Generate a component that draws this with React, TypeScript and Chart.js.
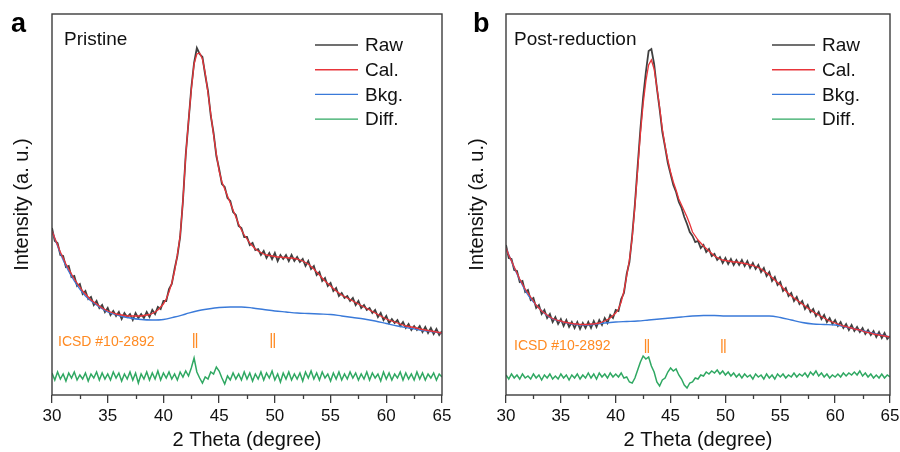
import React, { useEffect, useRef } from 'react';
import { Chart, registerables } from 'chart.js';

Chart.register(...registerables);

// ---------------- data ----------------
const twoTheta = [
  30, 30.25, 30.5, 30.75, 31, 31.25, 31.5, 31.75, 32, 32.25, 32.5, 32.75, 33, 33.25, 33.5, 33.75,
  34, 34.25, 34.5, 34.75, 35, 35.25, 35.5, 35.75, 36, 36.25, 36.5, 36.75, 37, 37.25, 37.5, 37.75,
  38, 38.25, 38.5, 38.75, 39, 39.25, 39.5, 39.75, 40, 40.25, 40.5, 40.75, 41, 41.25, 41.5, 41.75,
  42, 42.25, 42.5, 42.75, 43, 43.25, 43.5, 43.75, 44, 44.25, 44.5, 44.75, 45, 45.25, 45.5, 45.75,
  46, 46.25, 46.5, 46.75, 47, 47.25, 47.5, 47.75, 48, 48.25, 48.5, 48.75, 49, 49.25, 49.5, 49.75,
  50, 50.25, 50.5, 50.75, 51, 51.25, 51.5, 51.75, 52, 52.25, 52.5, 52.75, 53, 53.25, 53.5, 53.75,
  54, 54.25, 54.5, 54.75, 55, 55.25, 55.5, 55.75, 56, 56.25, 56.5, 56.75, 57, 57.25, 57.5, 57.75,
  58, 58.25, 58.5, 58.75, 59, 59.25, 59.5, 59.75, 60, 60.25, 60.5, 60.75, 61, 61.25, 61.5, 61.75,
  62, 62.25, 62.5, 62.75, 63, 63.25, 63.5, 63.75, 64, 64.25, 64.5, 64.75, 65,
];

const bkgTheta = [
  30, 31, 32, 33, 34, 35, 36, 37, 38, 39, 40, 41, 42, 43, 44, 45, 46, 47,
  48, 49, 50, 51, 52, 53, 54, 55, 56, 57, 58, 59, 60, 61, 62, 63, 64, 65,
];

// Panel a — Pristine
const rawA = [
  166, 153, 151, 139, 138, 127, 128, 117, 118, 108, 110, 100, 103, 95, 97, 89,
  93, 86, 89, 82, 86, 79, 83, 78, 82, 75, 81, 77, 80, 74, 81, 76,
  80, 76, 82, 77, 84, 80, 87, 85, 93, 93, 105, 110, 125, 138, 157, 193,
  239, 272, 306, 331, 346, 340, 337, 319, 303, 278, 261, 238, 225, 210, 207, 196,
  193, 182, 179, 168, 166, 157, 157, 149, 151, 144, 145, 139, 143, 136, 141, 135,
  141, 133, 139, 135, 139, 133, 139, 133, 137, 132, 135, 128, 133, 125, 128, 119,
  122, 113, 116, 108, 111, 103, 106, 98, 101, 96, 98, 93, 96, 89, 93, 86,
  89, 84, 86, 81, 84, 77, 81, 74, 78, 71, 75, 71, 74, 68, 72, 66,
  70, 64, 68, 64, 68, 62, 67, 61, 66, 60, 65, 59, 63,
];
const calA = [
  163, 156, 149, 142, 136, 130, 125, 120, 115, 111, 107, 103, 100, 97, 94, 92,
  90, 88, 86, 84.5, 83, 82, 81, 80, 79.5, 79, 78.5, 78, 78, 78, 78, 78,
  78, 78.5, 79, 79.5, 80.5, 82, 84, 87, 90, 95, 102, 111, 123, 139, 158, 193,
  238, 273, 304, 330, 340, 341, 335, 321, 301, 280, 259, 240, 223, 212, 205, 198,
  191, 184, 177, 170, 164, 159, 155, 151, 148, 145, 143, 141.5, 140, 139, 138.5, 138,
  137.5, 137, 137, 136.5, 136.5, 136, 136, 135.5, 135, 134, 133, 131.5, 130, 127.5, 125, 122,
  119, 116, 113, 110.5, 108, 105.5, 103, 101, 99, 97.5, 96, 94.5, 93, 91.5, 90, 88.5,
  87, 85.5, 84, 82.5, 81, 79.5, 78, 76.5, 75, 74, 73, 72, 71, 70, 69, 68,
  67.5, 67, 66.5, 66, 65, 64.5, 64, 63.5, 63, 62.5, 62, 61.5, 61,
];
const bkgA = [
  163, 134, 113, 98, 89, 82, 78.5, 76, 74.5, 74, 74.5, 77, 80, 83, 85, 86.5, 87, 87,
  86, 84.5, 83, 82, 81, 80.5, 80, 79.5, 78, 76.5, 75, 73, 70.5, 68, 66, 64, 62.5, 61,
];
const diffA = [
  21, 14, 22, 15, 20, 13, 21, 16, 22, 14, 19, 15, 21, 13, 20, 16,
  22, 14, 21, 15, 20, 14, 22, 16, 21, 13, 20, 15, 22, 14, 21, 11,
  20, 15, 22, 14, 21, 15, 23, 14, 21, 16, 22, 15, 20, 14, 22, 17,
  23, 18, 26, 36, 22, 16, 11, 17, 15, 22, 20, 27, 23, 16, 10, 18,
  14, 21, 15, 20, 14, 22, 15, 21, 13, 20, 15, 22, 14, 21, 16, 23,
  14, 20, 12, 21, 15, 22, 14, 20, 15, 21, 13, 22, 16, 23, 15, 21,
  14, 22, 16, 20, 13, 21, 15, 22, 14, 20, 15, 22, 16, 21, 14, 20,
  15, 22, 14, 21, 16, 20, 13, 22, 15, 21, 14, 20, 16, 22, 14, 21,
  15, 20, 14, 22, 15, 21, 14, 20, 16, 21, 14, 20, 17,
];

// Panel b — Post-reduction
const rawB = [
  149, 136, 135, 124, 123, 112, 113, 102, 104, 94, 96, 86, 89, 80, 84, 76,
  80, 72, 77, 70, 75, 68, 74, 67, 72, 66, 72, 65, 71, 66, 72, 66,
  73, 67, 74, 69, 76, 71, 79, 76, 84, 83, 95, 101, 120, 132, 158, 190,
  228, 265, 297, 322, 343, 345, 330, 306, 285, 262, 247, 231, 220, 209, 202, 192,
  186, 177, 170, 162, 158, 152, 153, 146, 149, 142, 145, 138, 140, 134, 137, 131,
  136, 130, 135, 129, 134, 129, 134, 128, 133, 126, 131, 125, 129, 122, 126, 118,
  122, 113, 117, 109, 112, 103, 106, 98, 101, 93, 97, 90, 93, 85, 89, 82,
  85, 78, 82, 75, 79, 72, 76, 70, 74, 68, 72, 66, 70, 64, 69, 63,
  67, 62, 66, 60, 64, 59, 63, 57, 62, 56, 61, 55, 58,
];
const calB = [
  146, 139, 133, 127, 121, 115, 110, 105, 101, 97, 93, 89, 86, 83, 81, 79,
  77, 75.5, 74.5, 73.5, 73, 72, 71.5, 71, 70.5, 70, 70, 69.5, 69.5, 69.5, 69.5, 70,
  70, 70.5, 71, 72, 73, 74.5, 76, 78.5, 81, 85, 92, 103, 118, 134, 156, 188,
  224, 260, 290, 313, 329, 334, 325, 307, 287, 265, 248, 234, 222, 212, 204, 195,
  189, 183, 177, 170, 162, 158, 154, 151, 148, 145.5, 143, 140.5, 138, 136.5, 135, 134,
  133.5, 133, 132.5, 132, 132, 131.5, 131, 130.5, 130, 129, 128.5, 127.5, 126.5, 125, 123, 121,
  119, 116.5, 114, 111.5, 109, 106, 103, 100.5, 98, 96, 94, 92, 90, 88, 86, 84,
  82, 80.5, 79, 77.5, 76, 74.5, 73, 72, 71, 70, 69, 68, 67.5, 66.5, 66, 65,
  64.5, 64, 63, 62, 61.5, 61, 60, 59.5, 59, 58.5, 58, 57.5, 57,
];
const bkgB = [
  146, 120, 99, 86, 76.5, 72.5, 70, 69, 69.5, 71, 72, 72.5, 73, 74, 75, 76, 77, 78,
  78.5, 78.5, 78, 78, 78, 78, 78, 76.5, 74, 71.5, 70, 69.5, 69, 67, 64.5, 62, 59.5, 57,
];
const diffB = [
  19, 15, 20, 16, 19, 15, 20, 16, 18, 15, 20, 16, 19, 14, 19, 16,
  20, 15, 18, 15, 20, 16, 19, 14, 19, 16, 20, 15, 19, 16, 21, 16,
  20, 15, 21, 17, 20, 16, 21, 17, 20, 17, 21, 16, 17, 12, 11, 16,
  24, 32, 38, 35, 37, 28, 22, 12, 8, 14, 16, 22, 26, 23, 25, 19,
  15, 9, 6, 11, 12, 16, 15, 19, 18, 22, 20, 23, 21, 24, 20, 23,
  19, 22, 18, 21, 17, 20, 16, 20, 17, 19, 15, 20, 17, 19, 15, 20,
  16, 19, 15, 20, 17, 20, 16, 19, 17, 21, 17, 20, 18, 21, 17, 22,
  19, 23, 18, 21, 17, 20, 16, 19, 17, 20, 17, 21, 18, 21, 19, 22,
  19, 23, 18, 21, 17, 20, 16, 19, 16, 20, 16, 19, 17,
];

// ICSD #10-2892 reflection positions (2θ)
const braggPositions = [42.72, 42.97, 49.68, 49.95];

const seriesLabels = ['Raw', 'Cal.', 'Bkg.', 'Diff.'];
const xTickValues = [30, 35, 40, 45, 50, 55, 60, 65];
const xMinorTicks = [32.5, 37.5, 42.5, 47.5, 52.5, 57.5, 62.5];

// ---------------- styles ----------------
const FONT = 'Arial, "Liberation Sans", Helvetica, sans-serif';
const RAW_COLOR = '#404040';
const CAL_COLOR = '#e8353a';
const BKG_COLOR = '#3a7ad9';
const DIFF_COLOR = '#2fa862';
const ORANGE = '#ff8a22';
const AXIS_COLOR = '#3c3c3c';
const TEXT_COLOR = '#111111';
const seriesColors = [RAW_COLOR, CAL_COLOR, BKG_COLOR, DIFF_COLOR];

type PanelSpec = {
  left: number;
  width: number;
  padding: { left: number; right: number; top: number; bottom: number };
  letter: string;
  letterX: number;
  name: string;
  nameX: number;
  raw: number[];
  cal: number[];
  bkg: number[];
  diff: number[];
  braggTop: number;
  braggBottom: number;
  icsdX: number;
  icsdY: number;
  legendX: number;
  yTitleX: number;
};

const panels: PanelSpec[] = [
  {
    left: 0,
    width: 470,
    padding: { left: 52, right: 28, top: 14, bottom: 0 },
    letter: 'a', letterX: 11, name: 'Pristine', nameX: 64,
    raw: rawA, cal: calA, bkg: bkgA, diff: diffA,
    braggTop: 61, braggBottom: 46, icsdX: 58, icsdY: 342,
    legendX: 315, yTitleX: 22,
  },
  {
    left: 450,
    width: 450,
    padding: { left: 56, right: 10, top: 14, bottom: 0 },
    letter: 'b', letterX: 23, name: 'Post-reduction', nameX: 64,
    raw: rawB, cal: calB, bkg: bkgB, diff: diffB,
    braggTop: 55, braggBottom: 41, icsdX: 64, icsdY: 346,
    legendX: 322, yTitleX: 27,
  },
];

const pts = (xs: number[], ys: number[]) => xs.map((x, i) => ({ x, y: ys[i] }));

function makeOverlay(p: PanelSpec) {
  return {
    id: 'overlay',
    afterDraw(chart: any) {
      const { ctx, chartArea: ca, scales } = chart;
      ctx.save();
      // frame
      ctx.strokeStyle = AXIS_COLOR;
      ctx.lineWidth = 1.4;
      ctx.strokeRect(ca.left, ca.top, ca.right - ca.left, ca.bottom - ca.top);
      // minor ticks
      ctx.lineWidth = 1.3;
      for (const m of xMinorTicks) {
        const px = Math.round(scales.x.getPixelForValue(m)) + 0.5;
        ctx.beginPath();
        ctx.moveTo(px, ca.bottom);
        ctx.lineTo(px, ca.bottom + 4);
        ctx.stroke();
      }
      // panel letter
      ctx.fillStyle = '#000';
      ctx.font = `bold 27px ${FONT}`;
      ctx.textAlign = 'left';
      ctx.textBaseline = 'alphabetic';
      ctx.fillText(p.letter, p.letterX, 32);
      // sample name
      ctx.fillStyle = TEXT_COLOR;
      ctx.font = `19px ${FONT}`;
      ctx.fillText(p.name, p.nameX, 45);
      // ICSD label
      ctx.fillStyle = ORANGE;
      ctx.font = `14px ${FONT}`;
      ctx.textBaseline = 'middle';
      ctx.fillText('ICSD #10-2892', p.icsdX, p.icsdY);
      // legend
      ctx.font = `19px ${FONT}`;
      ctx.textBaseline = 'middle';
      seriesLabels.forEach((lab, i) => {
        const y = 45 + i * 24.7;
        ctx.strokeStyle = seriesColors[i];
        ctx.lineWidth = 1.4;
        ctx.beginPath();
        ctx.moveTo(p.legendX, y);
        ctx.lineTo(p.legendX + 43, y);
        ctx.stroke();
        ctx.fillStyle = TEXT_COLOR;
        ctx.fillText(lab, p.legendX + 50, y + 1);
      });
      // y title
      ctx.translate(p.yTitleX, (ca.top + ca.bottom) / 2);
      ctx.rotate(-Math.PI / 2);
      ctx.textAlign = 'center';
      ctx.textBaseline = 'middle';
      ctx.font = `20px ${FONT}`;
      ctx.fillStyle = TEXT_COLOR;
      ctx.fillText('Intensity (a. u.)', 0, 0);
      ctx.restore();
    },
  };
}

function Panel({ spec }: { spec: PanelSpec }) {
  const ref = useRef<HTMLCanvasElement>(null);
  useEffect(() => {
    if (!ref.current) return;
    const bragg: { x: number; y: number | null }[] = [];
    braggPositions.forEach((pos) => {
      bragg.push({ x: pos, y: spec.braggTop }, { x: pos, y: spec.braggBottom }, { x: pos, y: null });
    });
    const chart = new Chart(ref.current, {
      type: 'line',
      data: {
        datasets: [
          { label: 'Raw', data: pts(twoTheta, spec.raw), borderColor: RAW_COLOR, borderWidth: 1.8, order: 4 },
          { label: 'Cal.', data: pts(twoTheta, spec.cal), borderColor: CAL_COLOR, borderWidth: 1.3, order: 2 },
          {
            label: 'Bkg.', data: pts(bkgTheta, spec.bkg), borderColor: BKG_COLOR, borderWidth: 1.3,
            cubicInterpolationMode: 'monotone', order: 3,
          },
          { label: 'Diff.', data: pts(twoTheta, spec.diff), borderColor: DIFF_COLOR, borderWidth: 1.5, order: 1 },
          { label: 'ICSD', data: bragg as any, borderColor: ORANGE, borderWidth: 1.3, spanGaps: false, order: 0 },
        ],
      } as any,
      options: {
        animation: false,
        responsive: false,
        maintainAspectRatio: false,
        events: [],
        layout: { padding: spec.padding },
        elements: { point: { radius: 0 }, line: { tension: 0 } },
        plugins: { legend: { display: false }, tooltip: { enabled: false } },
        scales: {
          x: {
            type: 'linear',
            min: 30,
            max: 65,
            afterBuildTicks: (s: any) => {
              s.ticks = xTickValues.map((v) => ({ value: v }));
            },
            ticks: {
              font: { family: FONT, size: 17 },
              color: TEXT_COLOR,
              padding: 3,
              maxRotation: 0,
              autoSkip: false,
            },
            grid: { drawOnChartArea: false, drawTicks: true, tickLength: 8, color: AXIS_COLOR, lineWidth: 1.3 },
            border: { display: false },
            title: {
              display: true,
              text: '2 Theta (degree)',
              font: { family: FONT, size: 20 },
              color: TEXT_COLOR,
              padding: { top: 0, bottom: 0 },
            },
            afterFit: (s: any) => {
              s.height = 57;
              s.paddingLeft = 0;
              s.paddingRight = 0;
            },
          },
          y: { display: false, min: -1, max: 380 },
        },
      } as any,
      plugins: [makeOverlay(spec)],
    });
    return () => chart.destroy();
  }, [spec]);
  return (
    <canvas
      ref={ref}
      width={spec.width}
      height={452}
      style={{ position: 'absolute', left: spec.left, top: 0, width: spec.width, height: 452 }}
    />
  );
}

export default function App() {
  return (
    <div style={{ position: 'absolute', left: 0, top: 0, width: 900, height: 452, background: '#fff', overflow: 'hidden' }}>
      {panels.map((p) => (
        <Panel key={p.letter} spec={p} />
      ))}
    </div>
  );
}
